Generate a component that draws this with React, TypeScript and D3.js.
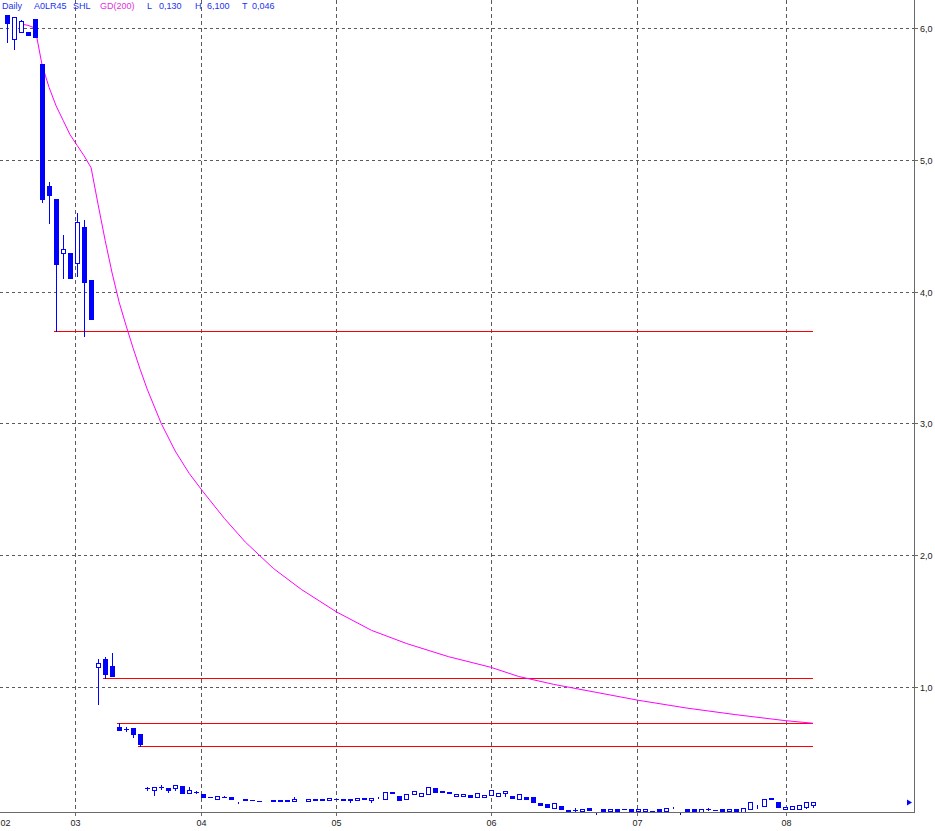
import React from 'react';
import * as d3 from 'd3';

// ---- data ----
const candleSlots = [0,1,2,3,4,5,6,7,8,9,10,11,12,13,14,15,16,17,18,19,20,21,22,23,24,25,26,27,28,29,30,31,32,34,35,36,38,39,40,41,43,44,45,46,47,48,49,50,51,52,54,55,56,57,58,59,60,61,62,63,64,65,66,67,68,69,70,71,72,73,74,75,76,77,78,79,80,81,82,83,85,86,87,88,89,90,91,92,93,94,97,98,99,100,101,102,103,104,105,106,108,109,110,111,112,113,114,115];
const opens = [6.10,5.92,5.97,5.97,6.07,5.73,4.80,4.70,4.29,4.29,4.22,4.49,4.09,1.15,1.21,1.16,0.70,0.68,0.69,0.645,0.233,0.218,0.238,0.23,0.233,0.25,0.192,0.205,0.187,0.165,0.147,0.162,0.165,0.152,0.142,0.137,0.144,0.144,0.144,0.134,0.135,0.152,0.152,0.142,0.152,0.149,0.149,0.142,0.159,0.139,0.149,0.205,0.172,0.149,0.187,0.172,0.19,0.233,0.21,0.205,0.172,0.172,0.182,0.165,0.162,0.184,0.172,0.192,0.175,0.154,0.165,0.167,0.119,0.111,0.081,0.096,0.068,0.068,0.061,0.08,0.071,0.061,0.071,0.071,0.071,0.061,0.061,0.061,0.071,0.061,0.071,0.071,0.055,0.071,0.066,0.071,0.061,0.071,0.055,0.078,0.096,0.159,0.127,0.076,0.076,0.076,0.093,0.108];
const highs = [6.10,6.08,6.06,5.97,6.07,5.73,4.83,4.70,4.43,4.29,4.60,4.54,4.09,1.21,1.23,1.26,0.73,0.695,0.69,0.645,0.245,0.24,0.258,0.23,0.256,0.25,0.238,0.214,0.187,0.168,0.172,0.17,0.165,0.152,0.142,0.137,0.144,0.144,0.144,0.165,0.152,0.152,0.152,0.159,0.152,0.149,0.149,0.159,0.159,0.159,0.203,0.205,0.172,0.187,0.21,0.195,0.24,0.233,0.21,0.205,0.187,0.187,0.182,0.195,0.177,0.218,0.195,0.21,0.175,0.187,0.165,0.167,0.119,0.111,0.119,0.096,0.068,0.08,0.076,0.08,0.071,0.076,0.071,0.071,0.071,0.076,0.076,0.061,0.071,0.083,0.071,0.071,0.076,0.08,0.066,0.071,0.076,0.071,0.083,0.129,0.152,0.159,0.127,0.092,0.096,0.104,0.127,0.131];
const lows = [5.89,5.84,5.97,5.95,5.93,4.68,4.52,3.70,4.10,4.10,4.12,3.66,3.79,0.87,1.07,1.085,0.67,0.665,0.62,0.55,0.222,0.177,0.228,0.20,0.218,0.197,0.192,0.197,0.167,0.162,0.147,0.162,0.147,0.139,0.142,0.137,0.132,0.132,0.132,0.134,0.135,0.139,0.139,0.142,0.152,0.142,0.124,0.142,0.147,0.127,0.149,0.195,0.144,0.149,0.187,0.172,0.19,0.207,0.20,0.197,0.172,0.172,0.169,0.165,0.162,0.184,0.172,0.172,0.159,0.154,0.149,0.127,0.101,0.093,0.081,0.078,0.058,0.06,0.061,0.068,0.058,0.061,0.061,0.071,0.061,0.061,0.061,0.061,0.061,0.061,0.061,0.061,0.055,0.064,0.066,0.061,0.061,0.061,0.055,0.071,0.096,0.152,0.086,0.076,0.076,0.076,0.085,0.09];
const closes = [6.04,6.08,6.05,5.95,5.93,4.70,4.73,4.21,4.32,4.10,4.53,4.07,3.79,1.18,1.10,1.085,0.67,0.68,0.64,0.57,0.233,0.24,0.238,0.218,0.256,0.197,0.222,0.205,0.167,0.165,0.172,0.162,0.147,0.139,0.142,0.137,0.132,0.132,0.132,0.154,0.152,0.139,0.139,0.159,0.152,0.142,0.139,0.159,0.147,0.159,0.203,0.195,0.144,0.187,0.21,0.195,0.24,0.207,0.20,0.197,0.187,0.187,0.169,0.195,0.177,0.218,0.195,0.21,0.159,0.187,0.149,0.127,0.101,0.093,0.119,0.078,0.058,0.068,0.076,0.068,0.058,0.076,0.061,0.071,0.061,0.076,0.076,0.061,0.061,0.083,0.061,0.061,0.076,0.071,0.066,0.061,0.076,0.061,0.083,0.129,0.152,0.152,0.086,0.092,0.096,0.104,0.127,0.130];

// single-price trades drawn as small stubs
const stubSlots = [33, 53, 84, 95, 96, 107];
const stubHighs = [0.131, 0.162, 0.046, 0.089, 0.046, 0.104];
const stubLows = [0.131, 0.162, 0.046, 0.089, 0.046, 0.081];

// GD(200) line readings
const gdSlots = [2,3,4,5,6,7,8,9,10,11,12,13,14,15,16,17,18,19,20,22,24,26,28,31,34,38,42,47,52,57,63,69,73,78,84,90,97,104,111,115];
const gdValues = [6.03,6.02,6.00,5.72,5.55,5.41,5.30,5.19,5.11,5.03,4.94,4.66,4.39,4.14,3.92,3.74,3.57,3.41,3.26,3.00,2.79,2.62,2.48,2.28,2.10,1.90,1.74,1.57,1.43,1.33,1.23,1.15,1.08,1.02,0.96,0.90,0.84,0.79,0.745,0.725];

// horizontal support lines
const levelValues = [3.70, 1.07, 0.73, 0.55];
const levelStartSlots = [7, 14, 16, 19];
const levelEndSlot = 115;

// axes
const monthLabels = ['02', '03', '04', '05', '06', '07', '08'];
const monthSlots = [-0.3, 9.7, 27.7, 46.9, 69.0, 89.9, 111.1];
const priceTicks = [1, 2, 3, 4, 5, 6];
const priceLabels = ['1,0', '2,0', '3,0', '4,0', '5,0', '6,0'];
const lastPrice = 0.13;

const headerParts = [
  { t: 'Daily', x: 2, c: '#2233ee' },
  { t: 'A0LR45', x: 34, c: '#2233ee' },
  { t: 'SHL', x: 73, c: '#2233ee' },
  { t: 'GD(200)', x: 100, c: '#e030e0' },
  { t: 'L', x: 147, c: '#2233ee' },
  { t: '0,130', x: 159, c: '#2233ee' },
  { t: 'H', x: 195, c: '#2233ee' },
  { t: '6,100', x: 207, c: '#2233ee' },
  { t: 'T', x: 242, c: '#2233ee' },
  { t: '0,046', x: 252, c: '#2233ee' },
];

const W = 935;
const H = 831;
const AXIS_X = 914;
const AXIS_Y = 812;
const BLUE = '#0000ff';

export default function App() {
  const x = d3.scaleLinear().domain([0, 115]).range([7, 813]);
  const y = d3.scaleLinear().domain([0, 6]).range([818.8, 28]);
  const gdLine = d3.line<number>()
    .x((_, i) => x(gdSlots[i]))
    .y((v) => y(v));

  const candles = candleSlots.map((s, i) => {
    const cx = Math.round(x(s));
    const o = opens[i], c = closes[i], h = highs[i], l = lows[i];
    const yTop = Math.round(y(Math.max(o, c)));
    const yBot = Math.round(y(Math.min(o, c)));
    const yH = Math.round(y(h));
    const yL = Math.round(y(l));
    const els: React.ReactNode[] = [];
    if (yL > yH) {
      els.push(<line key="w" x1={cx + 0.5} x2={cx + 0.5} y1={yH} y2={yL + 1} stroke={BLUE} strokeWidth={1} />);
    }
    if (yBot - yTop < 1 || o === c) {
      els.push(<rect key="b" x={cx - 2} y={yTop} width={5} height={1} fill={BLUE} />);
    } else if (c < o) {
      els.push(<rect key="b" x={cx - 2} y={yTop} width={5} height={yBot - yTop + 1} fill={BLUE} />);
    } else {
      els.push(<rect key="b" x={cx - 1.5} y={yTop + 0.5} width={4} height={yBot - yTop} fill="#ffffff" stroke={BLUE} strokeWidth={1} />);
    }
    return <g key={s}>{els}</g>;
  });

  const stubs = stubSlots.map((s, i) => {
    const cx = Math.round(x(s));
    const yH = Math.round(y(stubHighs[i]));
    const yL = Math.round(y(stubLows[i]));
    return <rect key={'s' + s} x={cx} y={yH} width={1} height={Math.max(2, yL - yH + 1)} fill={BLUE} />;
  });

  const yLast = Math.round(y(lastPrice)) + 0.5;

  return (
    <svg width={W} height={H} style={{ position: 'absolute', left: 0, top: 0, display: 'block', background: '#ffffff' }}
      fontFamily="'Liberation Sans', Arial, sans-serif">
      <rect x={0} y={0} width={W} height={H} fill="#ffffff" />
      {/* grid */}
      <g shapeRendering="crispEdges" stroke="#5a5a5a" strokeWidth={1} strokeDasharray="3,3">
        {priceTicks.map((v) => (
          <line key={'h' + v} x1={0} x2={AXIS_X} y1={Math.round(y(v)) + 0.5} y2={Math.round(y(v)) + 0.5} />
        ))}
        {monthSlots.slice(1).map((s) => (
          <line key={'v' + s} x1={Math.round(x(s)) + 0.5} x2={Math.round(x(s)) + 0.5} y1={0} y2={AXIS_Y} strokeDasharray="4,3" />
        ))}
      </g>
      {/* support levels */}
      <g shapeRendering="crispEdges">
        {levelValues.map((v, i) => (
          <line key={'l' + i} x1={Math.round(x(levelStartSlots[i])) - 2} x2={Math.round(x(levelEndSlot))}
            y1={Math.round(y(v)) + 0.5} y2={Math.round(y(v)) + 0.5} stroke="#ff0000" strokeWidth={1} />
        ))}
      </g>
      {/* GD line */}
      <path d={gdLine(gdValues) || ''} fill="none" stroke="#ff00ff" strokeWidth={1} />
      {/* candles */}
      <g shapeRendering="crispEdges">
        {candles}
        {stubs}
      </g>
      {/* axes */}
      <g shapeRendering="crispEdges" stroke="#6a6a6a" strokeWidth={1}>
        <line x1={AXIS_X + 0.5} x2={AXIS_X + 0.5} y1={0} y2={AXIS_Y + 1} />
        <line x1={0} x2={AXIS_X + 1} y1={AXIS_Y + 0.5} y2={AXIS_Y + 0.5} />
        {priceTicks.map((v) => (
          <line key={'t' + v} x1={AXIS_X} x2={AXIS_X + 4} y1={Math.round(y(v)) + 0.5} y2={Math.round(y(v)) + 0.5} />
        ))}
        {monthSlots.slice(1).map((s) => (
          <line key={'mt' + s} x1={Math.round(x(s)) + 0.5} x2={Math.round(x(s)) + 0.5} y1={AXIS_Y} y2={AXIS_Y + 4} />
        ))}
      </g>
      {priceTicks.map((v, i) => (
        <text key={'pl' + v} x={AXIS_X + 6} y={Math.round(y(v)) + 3.5} fontSize={9} fill="#222">{priceLabels[i]}</text>
      ))}
      {monthSlots.map((s, i) => (
        <text key={'ml' + i} x={Math.round(x(s)) + 0.5} y={826} fontSize={9} fill="#222" textAnchor="middle">{monthLabels[i]}</text>
      ))}
      {/* last price marker */}
      <path d={`M${AXIS_X - 7},${yLast - 3}L${AXIS_X - 2},${yLast}L${AXIS_X - 7},${yLast + 3}Z`} fill={BLUE} />
      {/* header */}
      {headerParts.map((p, i) => (
        <text key={'hd' + i} x={p.x} y={9} fontSize={9} fill={p.c}>{p.t}</text>
      ))}
    </svg>
  );
}
